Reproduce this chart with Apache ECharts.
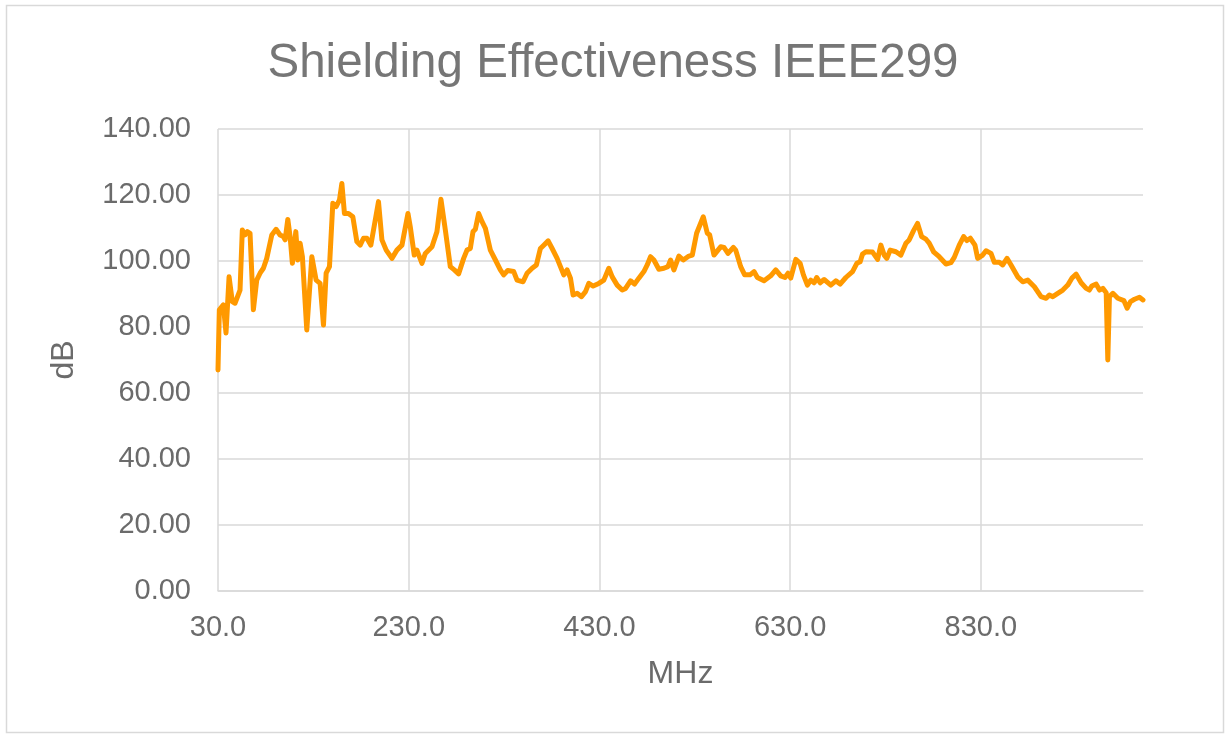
<!DOCTYPE html>
<html>
<head>
<meta charset="utf-8">
<script src="https://cdn.jsdelivr.net/npm/echarts@6/dist/echarts.min.js"></script>
<style>
html,body{margin:0;padding:0;background:#fff;}
#chart{width:1226px;height:734px;}
</style>
</head>
<body>
<div id="chart"></div>
<script>
// Frequency (MHz)
const freqMHz = [
30,31.4,35.6,38.4,41.6,45,47.9,53.1,55.5,58.4,60.8,63.6,67.1,70.6,74.1,77.6,81.1,86.4,90.9,95.1,
98.6,100.4,103.2,105.6,108,111.6,113.7,116.1,118.5,123.1,128.4,132.9,137.1,140.6,143.4,146.9,150.4,153.9,157.4,159.9,
162.6,166.8,171.4,175.6,179.1,182.6,186.1,190.3,198.3,201.9,206.4,212.4,217.6,222.9,229.2,231.6,235.8,238.6,243.9,247.4,
254.4,259.6,263.8,268.4,273.6,277.8,282.3,287.6,291.1,294.6,297.4,299.9,303.3,306.9,310.4,315.6,320.9,326.1,329.6,333.8,
340.1,343.6,349.9,354.1,359.4,363.9,368.1,371.6,376.2,380.4,385.6,389.1,392.6,396.1,399.6,402.4,406.6,411.2,415.4,418.8,
423.4,429.3,434.6,439.8,443.4,448.6,453.9,457.4,462.6,466.8,471.3,476.6,480.1,483.6,487.1,492.3,497.6,501.8,504.6,508.1,
513.3,517.9,523.8,527.4,531.9,538.9,543.1,545.6,550.1,557.1,560.6,564.8,570.4,572.9,578.1,582.3,587.9,592.1,595.6,602.6,
609.6,614.9,620.1,624.6,627.8,630.6,635.9,640.4,643.9,648.1,651.6,655.1,657.9,661.4,665.6,672.6,677.9,682.4,688.4,695.4,
699.9,703.4,705.9,709.4,716.4,721.7,725.1,728.6,731.4,734.9,740.9,746.1,751.4,754.8,759.4,763.6,767.8,772.4,775.8,780.4,
786.3,793.4,798.6,802.1,807.3,811.9,815.4,818.9,823.8,826.6,831.9,835.4,840.6,844.1,849.3,852.9,857.4,861.6,868.6,873.9,
879.1,886.1,893.1,898.4,901.8,905.4,910.6,915.9,921.1,925.7,929.9,935.1,940.4,943.8,946.3,950.9,954.4,957.9,961.4,963.1,
964.8,968.4,973.6,979.9,983.4,986.9,991.1,996.3,1000
];
// Shielding effectiveness (dB)
const seDb = [
67,85.2,86.7,78.2,95.2,87.7,87.2,91.2,109.4,107.9,108.9,108.4,85.2,94.2,96.3,97.8,100.8,107.9,109.6,107.9,
107.4,106.4,112.6,107.4,99.3,108.9,100.3,105.4,101.3,79.1,101.3,94.2,93.2,80.6,96.3,98.3,117.5,116.5,118.5,123.5,
114.4,114.4,113.4,105.9,104.8,106.9,106.9,104.8,118,106.4,103.3,100.8,103.3,104.8,114.4,110.4,101.8,103.3,99.3,102.3,
104.3,108.9,118.7,109.4,98.3,97.3,96.1,100.8,103.3,103.8,108.9,109.6,114.4,111.9,109.9,103.3,100.3,97.3,95.8,97.1,
96.8,94.2,93.7,96.3,97.8,98.8,103.8,104.8,106.1,103.8,100.8,98.3,95.8,97.3,94.8,89.7,90.2,89.2,90.7,93.2,
92.4,93.2,94.2,97.8,95.2,92.7,91.2,91.7,94,93,94.8,96.8,98.8,101.3,100.3,97.5,97.8,98.3,100.3,97.3,
101.5,100.3,101.5,101.8,108.4,113.4,108.4,107.9,101.8,104.3,104.1,102.3,104.1,103.3,98.3,95.8,95.8,96.8,95,94,
95.5,97.3,95.5,95,96.3,94.8,100.5,99.3,95.8,92.7,94.2,93.4,95,93.4,94.4,92.7,94,93,95,96.8,
99.3,99.8,102.1,102.8,102.7,100.5,104.8,101.8,100.8,103.3,102.8,101.8,105.4,106.4,109.2,111.4,107.4,106.6,105.4,102.8,
101.3,99.1,99.5,101.1,104.8,107.4,106.2,106.9,104.8,100.8,101.8,103.1,102.3,99.6,99.6,98.8,100.8,98.8,95.2,93.7,
94.2,92.2,89.2,88.7,89.7,89.2,90.2,91.2,92.7,94.9,96,93.4,91.7,91.2,92.4,93,91.2,91.7,90.4,70,
89.2,90.2,88.7,88,85.7,87.7,88.4,89,88.2
];
const titleText = 'Shielding Effectiveness IEEE299';
const xName = 'MHz';
const yName = 'dB';
const xStart = 30;   // first frequency tick
const xEnd = 1000;   // last frequency
const xStep = 200;   // tick spacing, MHz
const yMin = 0, yMax = 140, yStep = 20;

// Offset frequencies so axis ticks start at 30 MHz
const seriesData = freqMHz.map((f, i) => [f - xStart, seDb[i]]);

const FONT = '"Liberation Sans", Arial, sans-serif';
const chart = echarts.init(document.getElementById('chart'), null, {renderer: 'canvas'});
chart.setOption({
  backgroundColor: '#ffffff',
  animation: false,
  title: {
    text: titleText,
    left: 'center',
    top: 35,
    textStyle: {fontFamily: FONT, fontSize: 47.5, fontWeight: 'normal', color: '#767676'}
  },
  graphic: [{
    type: 'rect',
    shape: {x: 6.5, y: 5.5, width: 1217, height: 727},
    style: {fill: 'none', stroke: '#d9d9d9', lineWidth: 1.5},
    silent: true
  }],
  grid: {left: 218, right: 83, top: 129, bottom: 143, containLabel: false},
  xAxis: {
    type: 'value',
    min: 0,
    max: xEnd - xStart,
    interval: xStep,
    name: xName,
    nameLocation: 'middle',
    nameGap: 67,
    nameTextStyle: {fontFamily: FONT, fontSize: 32, color: '#6b6b6b'},
    axisLine: {show: true, lineStyle: {color: '#d9d9d9', width: 1.5}},
    axisTick: {show: false},
    axisLabel: {
      fontFamily: FONT, fontSize: 29, color: '#6b6b6b', margin: 22,
      showMaxLabel: false,
      formatter: v => (v + xStart).toFixed(1)
    },
    splitLine: {show: true, showMinLine: true, showMaxLine: false, lineStyle: {color: '#d9d9d9', width: 1.5}}
  },
  yAxis: {
    type: 'value',
    min: yMin,
    max: yMax,
    interval: yStep,
    name: yName,
    nameLocation: 'middle',
    nameGap: 138,
    nameRotate: 90,
    nameTextStyle: {fontFamily: FONT, fontSize: 32, color: '#6b6b6b'},
    axisLine: {show: false},
    axisTick: {show: false},
    axisLabel: {
      fontFamily: FONT, fontSize: 29, color: '#6b6b6b', margin: 27,
      formatter: v => v.toFixed(2)
    },
    splitLine: {show: true, lineStyle: {color: '#d9d9d9', width: 1.5}}
  },
  series: [{
    type: 'line',
    data: seriesData,
    showSymbol: false,
    symbol: 'none',
    smooth: false,
    lineStyle: {color: '#FF9900', width: 5, join: 'round', cap: 'round'},
    itemStyle: {color: '#FF9900'}
  }]
});
</script>
</body>
</html>
